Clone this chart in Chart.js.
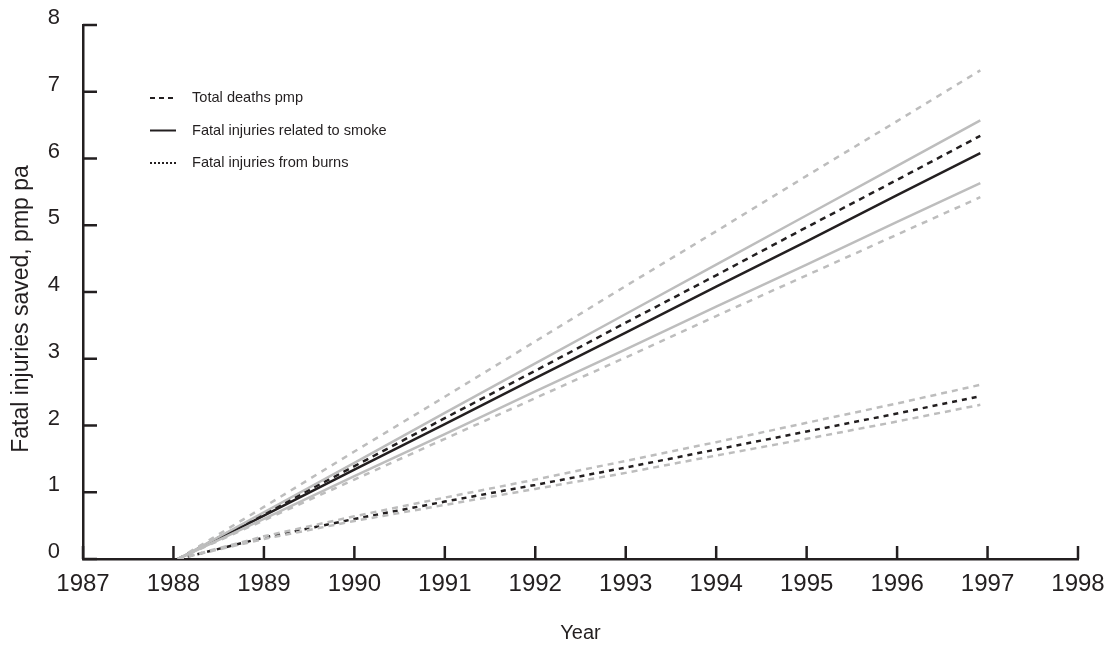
<!DOCTYPE html>
<html>
<head>
<meta charset="utf-8">
<script src="https://cdn.jsdelivr.net/npm/chart.js@4"></script>
<style>
html,body{margin:0;padding:0;background:#fff;}
#wrap{width:1116px;height:650px;position:relative;}
</style>
</head>
<body>
<div id="wrap"><canvas id="c" width="1116" height="650"></canvas></div>
<script>
// ---- data ----
const years = [1988.05, 1989, 1990, 1991, 1992, 1993, 1994, 1995, 1996, 1996.92];
const totalDeaths      = [0, 0.68, 1.39, 2.11, 2.82, 3.54, 4.25, 4.97, 5.68, 6.34];
const totalDeathsUpper = [0, 0.78, 1.61, 2.43, 3.26, 4.09, 4.91, 5.74, 6.56, 7.32];
const totalDeathsLower = [0, 0.58, 1.19, 1.80, 2.41, 3.02, 3.64, 4.25, 4.86, 5.42];
const smoke            = [0, 0.65, 1.34, 2.02, 2.71, 3.39, 4.08, 4.76, 5.45, 6.08];
const smokeUpper       = [0, 0.70, 1.44, 2.19, 2.93, 3.67, 4.41, 5.15, 5.89, 6.57];
const smokeLower       = [0, 0.60, 1.24, 1.87, 2.51, 3.14, 3.78, 4.41, 5.05, 5.63];
const burns            = [0, 0.32, 0.60, 0.86, 1.11, 1.37, 1.64, 1.91, 2.18, 2.44];
const burnsUpper       = [0, 0.34, 0.64, 0.92, 1.19, 1.47, 1.75, 2.04, 2.33, 2.61];
const burnsLower       = [0, 0.30, 0.57, 0.81, 1.05, 1.29, 1.55, 1.80, 2.06, 2.31];
const legendLabels = ['Total deaths pmp', 'Fatal injuries related to smoke', 'Fatal injuries from burns'];
const xTitle = 'Year';
const yTitle = 'Fatal injuries saved, pmp pa';

const DARK = '#231f20';
const GREY = '#bdbdbd';
const FONT = "'Liberation Sans', Arial, sans-serif";

function pts(vals){ return vals.map((v,i)=>({x:years[i], y:v})); }
function ds(vals, color, dash, width){
  return {data: pts(vals), borderColor: color, borderDash: dash, borderWidth: width,
          pointRadius: 0, fill: false, tension: 0};
}

const datasets = [
  ds(totalDeathsUpper, GREY, [6,6], 2.5),
  ds(totalDeathsLower, GREY, [6,6], 2.5),
  ds(smokeUpper, GREY, [], 2.5),
  ds(smokeLower, GREY, [], 2.5),
  ds(burnsUpper, GREY, [6,5], 2.5),
  ds(burnsLower, GREY, [6,5], 2.5),
  ds(totalDeaths, DARK, [6,5], 2.5),
  ds(smoke, DARK, [], 2.5),
  ds(burns, DARK, [5,5], 2.5),
];

const legendStyles = [
  {dash:[5,4], width:2},
  {dash:[], width:2},
  {dash:[2,2], width:2},
];

const customPlugin = {
  id: 'custom',
  afterDraw(chart){
    const ctx = chart.ctx;
    const {left, bottom, top} = chart.chartArea;
    const xs = chart.scales.x, ys = chart.scales.y;
    ctx.save();
    ctx.strokeStyle = DARK;
    ctx.lineWidth = 2.5;
    ctx.setLineDash([]);
    // inward tick marks
    xs.ticks.forEach(t=>{
      const px = xs.getPixelForValue(t.value);
      ctx.beginPath(); ctx.moveTo(px, bottom); ctx.lineTo(px, bottom-13); ctx.stroke();
    });
    ys.ticks.forEach(t=>{
      const py = ys.getPixelForValue(t.value);
      ctx.beginPath(); ctx.moveTo(left, py); ctx.lineTo(left+14, py); ctx.stroke();
    });
    // legend
    const lx = left + 67, ly = top + 73, step = 32.5;
    ctx.font = "14.6px " + FONT;
    ctx.textBaseline = 'middle';
    ctx.textAlign = 'left';
    ctx.fillStyle = DARK;
    legendLabels.forEach((lab,i)=>{
      const y = ly + i*step;
      ctx.lineWidth = legendStyles[i].width;
      ctx.setLineDash(legendStyles[i].dash);
      ctx.beginPath(); ctx.moveTo(lx, y); ctx.lineTo(lx+26, y); ctx.stroke();
      ctx.setLineDash([]);
      ctx.fillText(lab, lx+42, y);
    });
    // y-axis title
    ctx.translate(22, (top + bottom) / 2 + 17);
    ctx.rotate(-Math.PI / 2);
    ctx.font = "23px " + FONT;
    ctx.textAlign = 'center';
    ctx.textBaseline = 'middle';
    ctx.fillText(yTitle, 0, 0);
    ctx.restore();
  }
};

new Chart(document.getElementById('c'), {
  type: 'line',
  data: {datasets},
  plugins: [customPlugin],
  options: {
    responsive: false,
    animation: false,
    devicePixelRatio: 1,
    layout: {padding: {top: 25, right: 38, left: 0, bottom: 0}},
    plugins: {legend: {display: false}, tooltip: {enabled: false}},
    scales: {
      x: {
        type: 'linear', min: 1987, max: 1998,
        afterFit(s){ s.height = 91; s.paddingLeft = 0; s.paddingRight = 0; },
        grid: {display: false, drawTicks: false},
        border: {display: true, color: DARK, width: 2.5},
        ticks: {stepSize: 1, color: DARK, padding: 11, font: {family: FONT, size: 24},
                callback: v => String(v), maxRotation: 0, autoSkip: false},
        title: {display: true, text: xTitle, color: DARK, font: {family: FONT, size: 20},
                padding: {top: 0, bottom: 5}}
      },
      y: {
        type: 'linear', min: 0, max: 8,
        afterFit(s){ s.width = 83; s.paddingTop = 0; s.paddingBottom = 0; },
        grid: {display: false, drawTicks: false},
        border: {display: true, color: DARK, width: 2.5},
        ticks: {stepSize: 1, color: DARK, padding: 23, labelOffset: -7, font: {family: FONT, size: 22}},
        title: {display: false}
      }
    }
  }
});
</script>
</body>
</html>
